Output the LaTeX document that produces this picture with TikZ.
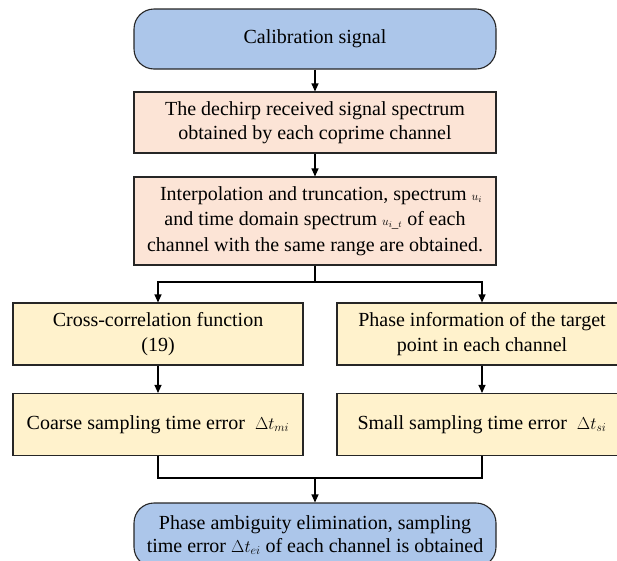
\documentclass[tikz,border=0pt]{standalone}
\usepackage{fontspec}
\setmainfont{Liberation Serif}
\usetikzlibrary{arrows.meta}
\definecolor{termblue}{RGB}{172,198,234}
\definecolor{procpeach}{RGB}{252,228,214}
\definecolor{procyellow}{RGB}{255,242,204}
\newcommand{\smallmath}[1]{{\fontsize{13}{14}\selectfont$#1$}}
\newcommand{\errmath}[1]{{\fontsize{17}{20}\selectfont$#1$}}
\tikzset{
  flow node/.style={
    draw=black!85,
    line width=1.1pt,
    align=center,
    inner sep=0pt,
    font=\fontsize{20}{24.5}\selectfont,
  },
  end node/.style={flow node, rounded corners=20pt, fill=termblue,
    minimum width=362pt, minimum height=60pt},
  proc node/.style={flow node, fill=procpeach, minimum width=362pt},
  branch node/.style={flow node, fill=procyellow,
    minimum width=290pt, minimum height=62pt},
  flow line/.style={line width=1.1pt, -{Triangle[length=8pt,width=7pt]}},
}

\begin{document}
\begin{tikzpicture}[x=1pt, y=-1pt]
      \useasboundingbox (0,0) rectangle (617,560);
      \clip (0,0) rectangle (617,560);

      \node[end node] (cal) at (315,39) {Calibration signal};
      \node[proc node, minimum height=61pt] (dechirp) at (315,122.5)
        {The dechirp received signal spectrum\\obtained by each coprime channel};
      \node[proc node, minimum height=88pt,
        font=\fontsize{20}{25.5}\selectfont] (interp) at (315,221)
        {\hspace*{12pt}Interpolation and truncation, spectrum \smallmath{u_{i}}\\
         and time domain spectrum \smallmath{u_{i\_t}} of each\\
         channel with the same range are obtained.};

      \node[branch node] (xcorr) at (158,334) {Cross-correlation function\\(19)};
      \node[branch node] (phase) at (482,334) {Phase information of the target\\point in each channel};
      \node[branch node] (coarse) at (158,424.5) {Coarse sampling time error~~\errmath{\Delta t_{mi}}};
      \node[branch node] (small) at (482,424.5) {Small sampling time error~~\errmath{\Delta t_{si}}};

      \node[end node, minimum height=64pt,
        font=\fontsize{20}{23}\selectfont] (ambig) at (315,535)
        {Phase ambiguity elimination, sampling\\time error \errmath{\Delta t_{ei}} of each channel is obtained};

      \coordinate (split) at (315,282);
      \coordinate (merge) at (315,478);

      \draw[flow line] (cal) -- (dechirp);
      \draw[flow line] (dechirp) -- (interp);
      \draw[line width=1.1pt] (interp) -- (split);
      \draw[flow line] (split) -| (xcorr);
      \draw[flow line] (split) -| (phase);
      \draw[flow line] (xcorr) -- (coarse);
      \draw[flow line] (phase) -- (small);
      \draw[line width=1.1pt] (coarse) |- (merge) -| (small);
      \draw[flow line] (merge) -- (ambig);
    \end{tikzpicture}
\end{document}
